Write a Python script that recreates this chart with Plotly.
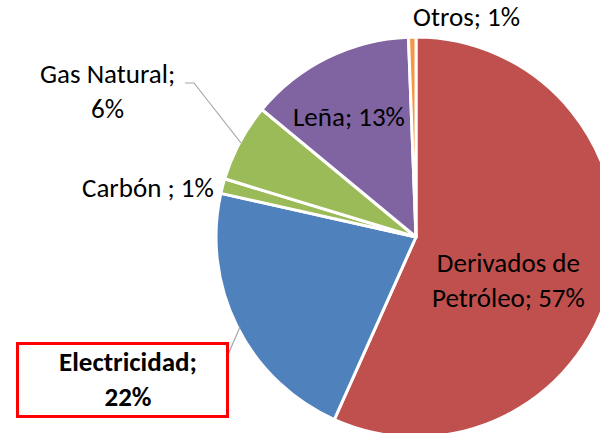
import plotly.graph_objects as go

categories = ["Derivados de Petróleo", "Electricidad", "Carbón", "Gas Natural", "Leña", "Otros"]
values = [56.7, 21.8, 1.2, 6.3, 13.4, 0.6]
colors = ["#C0504D", "#4F81BD", "#9BBB59", "#9BBB59", "#8064A2", "#F79646"]
label_texts = ["Derivados de<br>Petróleo; 57%", "<b>Electricidad;<br>22%</b>", "Carbón ; 1%",
               "Gas Natural;<br>6%", "Leña; 13%", "Otros; 1%"]

W, H = 640, 460

def px(x):
    return x / W

def py(y):
    return 1 - y / H

FONT = "Carlito, Calibri, Lato, sans-serif"

fig = go.Figure(go.Pie(
    labels=categories, values=values, sort=False, direction="clockwise", rotation=0,
    marker=dict(colors=colors, line=dict(color="white", width=3)),
    textinfo="none", hoverinfo="label+percent", showlegend=False,
    domain=dict(x=[px(216), px(616)], y=[py(437), py(37)]),
))

# red highlight box behind the Electricidad label
anns = [dict(x=px(122.5), y=py(379.5), xref="paper", yref="paper", text=" ", showarrow=False,
             xanchor="center", yanchor="middle", bordercolor="#FF0000", borderwidth=3,
             width=207, height=70, borderpad=0, bgcolor="white")]

pos = [(508, 280), (128, 379), (148, 187), (107, 91), (349, 117), (466, 16)]
for t, (x, y) in zip(label_texts, pos):
    anns.append(dict(x=px(x), y=py(y), xref="paper", yref="paper", text=t, showarrow=False,
                     font=dict(family=FONT, size=27, color="black"), align="center",
                     xanchor="center", yanchor="middle"))

shapes = [
    dict(type="path", xref="paper", yref="paper",
         path=f"M {px(185)} {py(83)} L {px(194)} {py(83)} L {px(241)} {py(143)}",
         line=dict(color="#A6A6A6", width=1.2)),
    dict(type="path", xref="paper", yref="paper",
         path=f"M {px(205)} {py(371)} L {px(221)} {py(371)} L {px(240)} {py(327)}",
         line=dict(color="#A6A6A6", width=1.2)),
]

fig.update_layout(width=W, height=H, margin=dict(l=0, r=0, t=0, b=0),
                  paper_bgcolor="white", plot_bgcolor="white",
                  annotations=anns, shapes=shapes)

fig.write_html("out.html", config={"displayModeBar": False},
               post_script="document.body.style.margin='0';document.body.style.overflow='hidden';")
